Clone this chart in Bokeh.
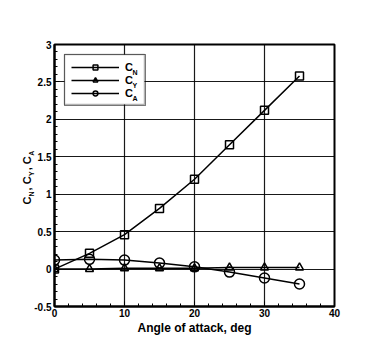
from bokeh.plotting import figure
from bokeh.models import (Legend, LegendItem, Label, Range1d, FixedTicker,
                          BoxAnnotation, Title)
from bokeh.embed import file_html
from bokeh.resources import INLINE

alpha = [0, 5, 10, 15, 20, 25, 30, 35]
cn = [0.0, 0.21, 0.46, 0.81, 1.20, 1.66, 2.12, 2.58]
cy = [0.0, 0.0, 0.01, 0.01, 0.01, 0.02, 0.02, 0.02]
ca = [0.12, 0.13, 0.12, 0.08, 0.03, -0.04, -0.12, -0.20]

x_ticks = [0, 10, 20, 30, 40]
y_ticks = [-0.5, 0, 0.5, 1, 1.5, 2, 2.5, 3]
y_tick_labels = {-0.5: "-0.5", 0: "0", 0.5: "0.5", 1: "1", 1.5: "1.5",
                 2: "2", 2.5: "2.5", 3: "3"}
series_subscripts = ["N", "Y", "A"]

FONT = "Liberation Sans"
NB = "\u00a0"

p = figure(width=375, height=345, output_backend="svg", toolbar_location=None,
           x_range=Range1d(0, 40), y_range=Range1d(-0.5, 3),
           min_border_left=54, min_border_right=41, min_border_top=44,
           min_border_bottom=39)

p.outline_line_color = "black"
p.outline_line_width = 2
p.background_fill_color = "white"
p.border_fill_color = "white"

for ax in (p.xaxis[0], p.yaxis[0]):
    ax.major_label_text_font = FONT
    ax.major_label_text_font_style = "bold"
    ax.major_label_text_font_size = "10px"
    ax.major_label_text_color = "black"
    ax.axis_line_color = "black"
    ax.axis_line_width = 2
    ax.major_tick_in = 5
    ax.major_tick_out = 0
    ax.minor_tick_in = 3
    ax.minor_tick_out = 0
    ax.major_tick_line_color = "black"
    ax.minor_tick_line_color = "black"
p.xaxis.major_label_standoff = 2
p.yaxis.major_label_standoff = 3

p.xaxis.ticker = FixedTicker(ticks=x_ticks, minor_ticks=list(range(0, 41, 2)))
p.yaxis.ticker = FixedTicker(ticks=y_ticks,
                             minor_ticks=[round(-0.5 + 0.1 * i, 1) for i in range(36)])
p.yaxis.major_label_overrides = y_tick_labels
p.xaxis.axis_label = "Angle of attack, deg"
p.xaxis.axis_label_text_font = FONT
p.xaxis.axis_label_text_font_style = "bold"
p.xaxis.axis_label_text_font_size = "12px"
p.xaxis.axis_label_text_color = "black"
p.xaxis.axis_label_standoff = 1

# y title "C_N , C_Y , C_A": subscripts as the axis label, C's as an outer title
p.yaxis.axis_label = NB * 2 + series_subscripts[0] + NB * 8 + series_subscripts[1] \
    + NB * 8 + series_subscripts[2]
p.yaxis.axis_label_text_font = FONT
p.yaxis.axis_label_text_font_style = "bold"
p.yaxis.axis_label_text_font_size = "7px"
p.yaxis.axis_label_text_color = "black"
p.yaxis.axis_label_standoff = -4
p.add_layout(Title(text="C" + NB * 2 + "," + NB + "C" + NB * 2 + "," + NB + "C",
                   align="left", offset=102, standoff=-14,
                   text_font=FONT, text_font_style="bold",
                   text_font_size="11px", text_color="black"), "left")

for g in (p.xgrid[0], p.ygrid[0]):
    g.grid_line_color = "black"
    g.grid_line_width = 1.2
    g.grid_line_alpha = 0.9

lw = 1.5
r_n = p.line(alpha, cn, line_color="black", line_width=lw)
m_n = p.scatter(alpha, cn, marker="square", size=8, line_color="black",
                line_width=1.5, fill_alpha=0)
r_y = p.line(alpha, cy, line_color="black", line_width=lw)
m_y = p.scatter(alpha, cy, marker="triangle", size=8, line_color="black",
                line_width=1.5, fill_alpha=0)
r_a = p.line(alpha, ca, line_color="black", line_width=lw)
m_a = p.scatter(alpha, ca, marker="circle", size=10, line_color="black",
                line_width=1.5, fill_alpha=0)

# white panel behind the legend (screen units: relative to frame, y up)
p.add_layout(BoxAnnotation(left=10, right=90, top=252, bottom=202,
                           left_units="screen", right_units="screen",
                           top_units="screen", bottom_units="screen",
                           fill_color="white", fill_alpha=1,
                           line_color="black", line_width=1.5))

legend = Legend(items=[LegendItem(label="C", renderers=[r_n, m_n]),
                       LegendItem(label="C", renderers=[r_y, m_y]),
                       LegendItem(label="C", renderers=[r_a, m_a])],
                location="top_left")
legend.label_text_font = FONT
legend.label_text_font_style = "bold"
legend.label_text_font_size = "11px"
legend.label_text_color = "black"
legend.glyph_width = 48
legend.glyph_height = 12
legend.spacing = 1
legend.padding = 6
legend.margin = 10
legend.label_standoff = 6
legend.label_width = 14
legend.border_line_color = "black"
legend.border_line_width = 1.5
legend.background_fill_alpha = 0
p.add_layout(legend)

# legend subscripts
for i, s in enumerate(series_subscripts):
    p.add_layout(Label(x=78, y=234 - 13 * i, x_units="screen", y_units="screen",
                       text=s, text_font=FONT, text_font_style="bold",
                       text_font_size="7px", text_baseline="alphabetic",
                       text_color="black"))

with open("out.html", "w") as f:
    f.write(file_html(p, INLINE))
